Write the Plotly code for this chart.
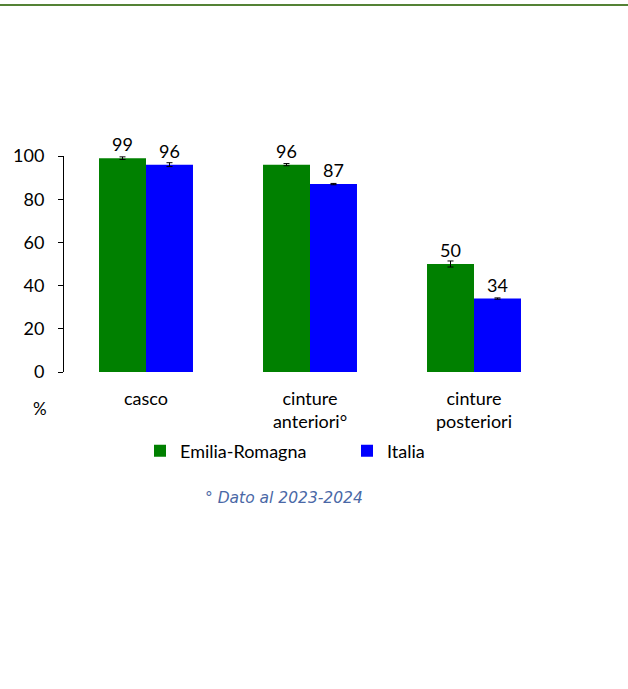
import plotly.graph_objects as go

# data
categories = ["casco", "cinture<br>anteriori°", "cinture<br>posteriori"]
emilia = [99, 96, 50]
emilia_err = [0.6, 0.5, 1.4]
italia = [96, 87, 34]
italia_err = [0.9, 0.3, 0.3]

FONT = "Lato"
W, H = 628, 689
L, R, T, B = 64, 72, 156, 317
pw, ph = W - L - R, H - T - B

fig = go.Figure()
fig.add_trace(go.Bar(
    x=categories, y=emilia, name="Emilia-Romagna",
    marker=dict(color="#008000", line=dict(width=0)),
    error_y=dict(type="data", array=emilia_err, color="black", thickness=1, width=3),
    text=emilia, textposition="outside", cliponaxis=False,
    textfont=dict(size=18, color="black"),
))
fig.add_trace(go.Bar(
    x=categories, y=italia, name="Italia",
    marker=dict(color="#0000ff", line=dict(width=0)),
    error_y=dict(type="data", array=italia_err, color="black", thickness=1, width=3),
    text=italia, textposition="outside", cliponaxis=False,
    textfont=dict(size=18, color="black"),
))

# top green rule (paper coords derived from pixel spots)
fig.add_shape(type="line", xref="paper", yref="paper",
              x0=-L / pw, x1=(W - L) / pw,
              y0=1 + (T - 5) / ph, y1=1 + (T - 5) / ph,
              line=dict(color="#548235", width=2))

fig.add_annotation(text="%", xref="paper", yref="paper",
                   x=(40 - L) / pw, y=-(408 - 372) / ph,
                   xanchor="center", yanchor="middle",
                   showarrow=False, font=dict(size=17, color="black", family=FONT))
fig.add_annotation(text="<i>° Dato al 2023-2024</i>", xref="paper", yref="paper",
                   x=(284 - L) / pw, y=-(498 - 372) / ph,
                   xanchor="center", yanchor="middle",
                   showarrow=False, font=dict(size=15.5, color="#4a68a6", family="DejaVu Sans"))

fig.update_layout(
    width=W, height=H,
    margin=dict(l=L, r=R, t=T, b=B),
    paper_bgcolor="white", plot_bgcolor="white",
    font=dict(family=FONT, size=18, color="black"),
    barmode="group", bargap=0.427, bargroupgap=0,
    showlegend=True,
    legend=dict(orientation="h", x=(140 - L) / pw, y=-(451 - 372) / ph,
                xanchor="left", yanchor="middle",
                font=dict(size=18, color="black"),
                itemwidth=30,
                entrywidth=162, entrywidthmode="pixels",
                bgcolor="rgba(0,0,0,0)"),
    xaxis=dict(range=[-0.5, 2.5], showline=False, ticks="", showgrid=False,
               tickfont=dict(size=18), ticklabelstandoff=14),
    yaxis=dict(range=[0, 100], tickvals=[0, 20, 40, 60, 80, 100],
               showline=True, linecolor="black", linewidth=1,
               ticks="outside", ticklen=5, tickcolor="black",
               ticklabelstandoff=10,
               showgrid=False, zeroline=False, tickfont=dict(size=18)),
)

fig.write_html("out.html", config={"displayModeBar": False},
               post_script="document.body.style.margin='0';")
